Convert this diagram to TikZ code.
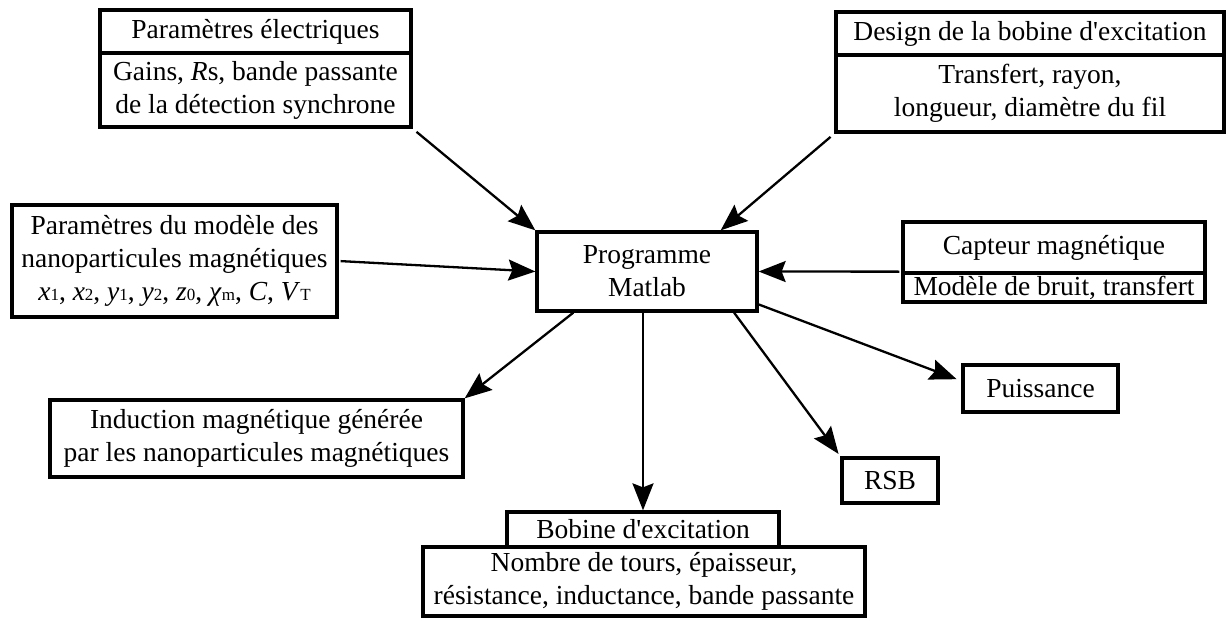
\documentclass[tikz,border=0pt]{standalone}
\usepackage{fontspec}
\setmainfont{Liberation Serif}
\newfontfamily\mainf{Liberation Serif}
\usetikzlibrary{arrows.meta,calc}
\newcommand{\sbs}[1]{{\fontsize{17}{20}\selectfont #1}}
\begin{document}
\begin{tikzpicture}[x=1pt,y=-1pt,
  box/.style={draw, line width=3.3pt, inner sep=0pt, align=center,
    font=\mainf\fontsize{27.5}{33}\selectfont},
  arr/.style={line width=2.3pt, -{Stealth[length=27pt,width=21pt,inset=4pt]}}]
\useasboundingbox (0,0) rectangle (1226,621);
% Parametres electriques
\node[box, minimum width=311, minimum height=43] (pet) at (255.5,31.5) {Paramètres électriques};
\node[box, minimum width=311, minimum height=74] (peb) at (255.5,90) {Gains, \textit{R}s, bande passante\\de la détection synchrone};
% Design
\node[box, minimum width=388, minimum height=43] (dgt) at (1030,33.5) {Design de la bobine d'excitation};
\node[box, minimum width=388, minimum height=77] (dgb) at (1030,93.5) {Transfert, rayon,\\longueur, diamètre du fil};
% modele
\node[box, minimum width=325, minimum height=112] (pm) at (174.5,261) {Paramètres du modèle des\\nanoparticules magnétiques\\\textit{x}\sbs{1}, \textit{x}\sbs{2}, \textit{y}\sbs{1}, \textit{y}\sbs{2}, \textit{z}\sbs{0}, \textit{χ}\sbs{m}, \textit{C}, \textit{V}\sbs{T}};
% Matlab
\node[box, minimum width=220, minimum height=79] (ml) at (647,271.5) {Programme\\Matlab};
% Capteur
\node[box, minimum width=302, minimum height=51] (cpt) at (1054,247.5) {Capteur magnétique};
\node[box, minimum width=302, minimum height=29] (cpb) at (1054,287.5) {Modèle de bruit, transfert};
% Induction
\node[box, minimum width=413, minimum height=77] (ind) at (256.5,438.5) {Induction magnétique générée\\par les nanoparticules magnétiques};
% Bobine
\node[box, minimum width=272, minimum height=35] (bbt) at (643,529.5) {Bobine d'excitation};
\node[box, minimum width=442, minimum height=69] (bbb) at (644,581.5) {Nombre de tours, épaisseur,\\résistance, inductance, bande passante};
% Puissance, RSB
\node[box, minimum width=155, minimum height=47] (pu) at (1040.5,388.5) {Puissance};
\node[box, minimum width=96, minimum height=45] (rsb) at (890,480.5) {RSB};
% arrows
\draw[arr, shorten <=5pt] (peb.south east) -- (ml.north west);
\draw[arr, shorten <=5pt] (dgb.south west) -- ($(ml.north west)!0.83!(ml.north east)$);
\draw[arr, shorten <=2pt] (pm.east) -- (ml.west);
\draw[arr, shorten <=2pt] ($(cpt.south west)+(0,-3)$) -- (ml.east);
\draw[arr] ($(ml.south west)!0.17!(ml.south east)$) -- (ind.north east);
\draw[arr] (bbt.north |- ml.south) -- (bbt.north);
\draw[arr, shorten >=3pt] ($(ml.south west)!0.89!(ml.south east)$) -- (rsb.north west);
\draw[arr, shorten >=5pt] ($(ml.north east)!0.9!(ml.south east)$) -- ($(pu.north west)!0.35!(pu.south west)$);
\end{tikzpicture}
\end{document}
